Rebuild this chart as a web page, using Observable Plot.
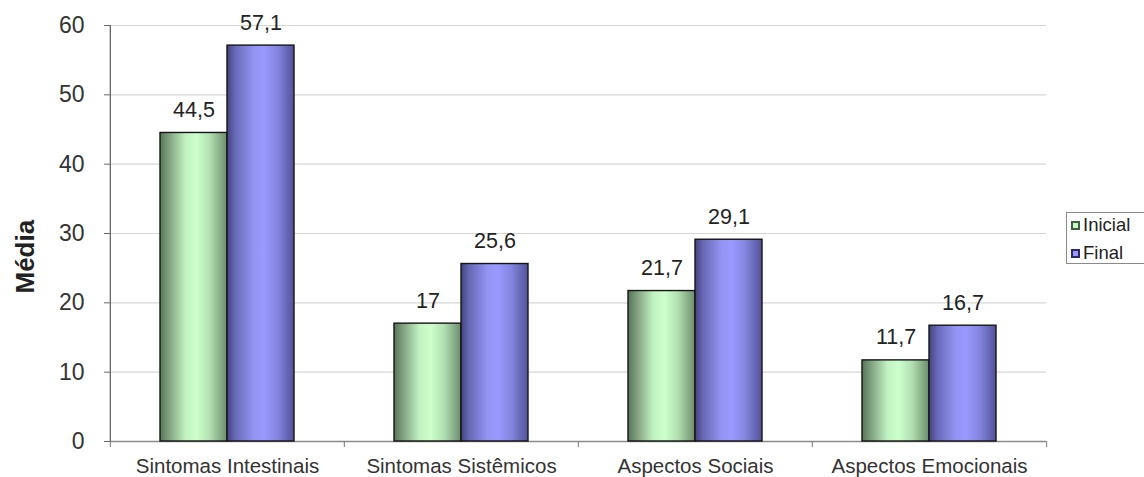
<!DOCTYPE html>
<html>
<head>
<meta charset="utf-8">
<script src="https://cdn.jsdelivr.net/npm/d3@7"></script>
<script src="https://cdn.jsdelivr.net/npm/@observablehq/plot@0.6"></script>
<style>
  html, body { margin: 0; padding: 0; background: #fff; overflow: hidden; }
  #wrap { position: relative; width: 1144px; height: 477px; font-family: "Liberation Sans", Arial, sans-serif; }
  #legend { position: absolute; left: 1066px; top: 212px; width: 90px; height: 52px; border: 1px solid #8a8a8a; box-sizing: border-box; background: #fff; }
  .row { position: absolute; left: 4px; display: flex; align-items: center; font-size: 18.5px; color: #222; }
  .sw { width: 5px; height: 5px; border: 2px solid; margin-right: 3px; }
</style>
</head>
<body>
<div id="wrap"></div>
<script>
const categories = ["Sintomas Intestinais", "Sintomas Sistêmicos", "Aspectos Sociais", "Aspectos Emocionais"];
const series = ["Inicial", "Final"];
const inicial = [44.5, 17, 21.7, 11.7];
const final = [57.1, 25.6, 29.1, 16.7];
const yTicks = [0, 10, 20, 30, 40, 50, 60];

const data = [];
categories.forEach((c, i) => {
  data.push({cat: c, series: "Inicial", value: inicial[i]});
  data.push({cat: c, series: "Final", value: final[i]});
});
const fmt = v => String(v).replace(".", ",");

// layout (style) constants
const W = 1144, H = 477, mL = 109, mR = 97, mT = 25, mB = 36;
const padOuter = 0.746;
const facetW = (W - mL - mR) / categories.length;
const step = facetW / (series.length + 2 * padOuter);
const edge = padOuter * step + step / 2; // from first band centre to facet edge

const font = "Liberation Sans, Arial, sans-serif";

const plot = Plot.plot({
  width: W, height: H,
  marginLeft: mL, marginRight: mR, marginTop: mT, marginBottom: mB,
  style: {fontFamily: font, background: "#fff", color: "#222"},
  fx: {domain: categories, padding: 0, axis: null, label: null},
  x: {domain: series, paddingInner: 0, paddingOuter: padOuter, axis: null},
  y: {domain: [0, 60], axis: null},
  marks: [
    Plot.ruleY(yTicks.filter(t => t > 0), {stroke: "#d6d6d6", strokeWidth: 1.2}),
    Plot.ruleY([0], {stroke: "#8a8a8a", strokeWidth: 1.3}),
    // category boundary ticks
    Plot.ruleX(data.filter(d => d.series === "Inicial"), {fx: "cat", x: "series", dx: -edge, y1: 0, y2: 0, insetBottom: -6, stroke: "#777"}),
    Plot.ruleX(data.filter(d => d.series === "Final" && d.cat === categories[categories.length - 1]), {fx: "cat", x: "series", dx: edge, y1: 0, y2: 0, insetBottom: -6, stroke: "#777"}),
    // y axis line
    Plot.ruleX(data.filter(d => d.series === "Inicial" && d.cat === categories[0]), {fx: "cat", x: "series", dx: -edge, y1: 0, y2: 60, stroke: "#666", strokeWidth: 1.3}),
    Plot.axisY({ticks: yTicks, tickSize: 6, tickPadding: 20, fontSize: 23, label: null, stroke: "#666", fill: "#333"}),
    Plot.axisFx({anchor: "bottom", tickSize: 0, tickPadding: 17, fontSize: 20.5, label: null, fill: "#333"}),
    Plot.barY(data, {fx: "cat", x: "series", y: "value",
      fill: d => d.series === "Inicial" ? "url(#gGreen)" : "url(#gBlue)",
      stroke: "#151515", strokeWidth: 1.4}),
    Plot.text(data, {fx: "cat", x: "series", y: "value", text: d => fmt(d.value),
      lineAnchor: "bottom", dy: -16, fontSize: 21.5, fill: "#222"}),
    Plot.text([categories[0]], {fx: d => d, text: () => "Média", frameAnchor: "left",
      rotate: -90, dx: -85, dy: 60, fontSize: 26, fontWeight: "bold", fill: "#222"})
  ]
});

// gradient definitions for the bar fills
const defs = d3.select(plot).insert("defs", ":first-child");
function grad(id, stops) {
  const g = defs.append("linearGradient").attr("id", id)
    .attr("x1", "0%").attr("x2", "100%").attr("y1", "0%").attr("y2", "0%");
  stops.forEach(([o, c]) => g.append("stop").attr("offset", o).attr("stop-color", c));
}
grad("gGreen", [["0%", "#557555"], ["12%", "#7c9c7c"], ["38%", "#c2f2c2"], ["55%", "#ccffcc"], ["75%", "#b0deb0"], ["100%", "#6c8c6c"]]);
grad("gBlue", [["0%", "#43437d"], ["12%", "#6868b6"], ["40%", "#9494f5"], ["55%", "#9999ff"], ["75%", "#8585e0"], ["100%", "#52529a"]]);

const wrap = document.getElementById("wrap");
wrap.appendChild(plot);

const legend = document.createElement("div");
legend.id = "legend";
const legendColors = {Inicial: ["#3f5f3f", "#c8f8c8"], Final: ["#2a2a66", "#9999ff"]};
series.forEach((s, i) => {
  const row = document.createElement("div");
  row.className = "row";
  row.style.top = (i === 0 ? 1 : 29) + "px";
  const sw = document.createElement("span");
  sw.className = "sw";
  sw.style.borderColor = legendColors[s][0];
  sw.style.background = legendColors[s][1];
  row.appendChild(sw);
  row.appendChild(document.createTextNode(s));
  legend.appendChild(row);
});
wrap.appendChild(legend);
</script>
</body>
</html>
